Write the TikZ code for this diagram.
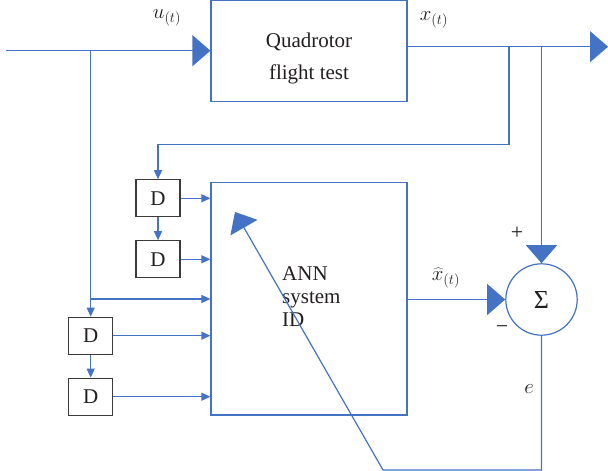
\documentclass[tikz,border=0pt]{standalone}
\usepackage{fontspec}
\setmainfont{Liberation Serif}
\usetikzlibrary{arrows.meta}
\definecolor{lblue}{HTML}{4472C4}
\definecolor{dgray}{HTML}{3A3A3A}
\definecolor{txt}{HTML}{231F20}
\begin{document}
\begin{tikzpicture}[x=1pt,y=-1pt,
  line/.style={draw=lblue, line width=1.2pt},
  big/.style={-{Triangle[length=18pt,width=31pt]}},
  small/.style={-{Triangle[length=9pt,width=8pt]}},
  block/.style={draw=lblue, line width=1.2pt, minimum width=196pt, inner sep=0pt},
  dbox/.style={draw=dgray, line width=1.2pt, minimum width=44pt, minimum height=37pt, inner sep=0pt, text=txt, font=\fontsize{21}{23}\selectfont},
  lbl/.style={text=txt, inner sep=0pt, font=\fontsize{21}{23}\selectfont},
  sumnode/.style={circle, draw=lblue, line width=1.2pt, minimum size=71.4pt, inner sep=0pt, text=txt, font=\fontsize{26}{28}\selectfont}
]
\useasboundingbox (0,0) rectangle (608,471);

% blocks
\node[block, minimum height=101pt] (quad) at (309,50.7) {};
\node[lbl, align=center, font=\fontsize{21}{32}\selectfont] (quadtxt) at (309,58) {Quadrotor\\flight test};
\node[block, minimum height=232.3pt] (ann) at (309,298.85) {};
\node[lbl, align=left, anchor=west] (anntxt) at (282,296.7) {ANN\\system\\ID};
\node[sumnode] (sum) at (541.5,299.5) {Σ};

% delay boxes
\node[dbox] (d1) at (158,198.3) {D};
\node[dbox] (d2) at (158,259.3) {D};
\node[dbox] (d3) at (90.7,335.7) {D};
\node[dbox] (d4) at (90.7,396.7) {D};

% labels
\node[lbl] (ulbl) at (167,18) {$u_{(t)}$};
\node[lbl] (xlbl) at (434,20) {$x_{(t)}$};
\node[lbl] (xhlbl) at (446,278) {$\widehat{x}_{(t)}$};
\node[lbl, font=\fontsize{22}{24}\selectfont] (plus) at (517,233) {+};
\node[lbl, font=\fontsize{22}{24}\selectfont] (minus) at (502,330) {−};
\node[lbl] (elbl) at (529,389) {$e$};

% coordinates
\coordinate (in) at (6,50.7);
\coordinate (out) at (608,46.7);
\coordinate (b1) at (90.7,50.7);
\coordinate (b1h) at (90.7,299);
\coordinate (b2) at (509,46.7);
\coordinate (b2c) at (509,144.3);
\coordinate (b3) at (541.5,46.7);
\coordinate (c1) at (541.5,470);
\coordinate (c2) at (383,470);
\coordinate (tip) at (235,212);

% main path
\draw[line,big] (in) -- (quad.west);
\draw[line,big] (quad.east |- out) -- (out);
\draw[line,big] (b3) -- (sum.north);
\draw[line,big] (ann.east |- sum) -- (sum.west);
\draw[line,big] (sum.south) -- (c1) -- (c2) -- (tip);

% input delay line
\draw[line,small] (b1) -- (d3.north);
\draw[line,small] (b1h) -- (ann.west |- b1h);
\draw[line,small] (d3.south) -- (d4.north);
\draw[line,small] (d3.east) -- (ann.west |- d3.east);
\draw[line,small] (d4.east) -- (ann.west |- d4.east);

% output delay line
\draw[line,small] (b2) -- (b2c) -| (d1.north);
\draw[line,small] (d1.south) -- (d2.north);
\draw[line,small] (d1.east) -- (ann.west |- d1.east);
\draw[line,small] (d2.east) -- (ann.west |- d2.east);
\end{tikzpicture}
\end{document}
